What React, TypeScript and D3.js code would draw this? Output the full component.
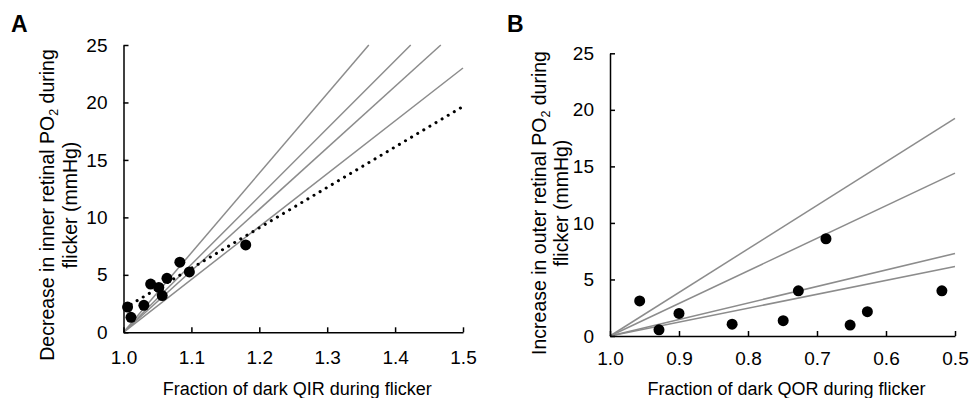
import React, { useRef, useEffect } from "react";
import * as d3 from "d3";

// Panel A: inner retina
const qirValues = [1.006, 1.011, 1.03, 1.04, 1.052, 1.057, 1.064, 1.083, 1.097, 1.18];
const innerDecrease = [2.2, 1.3, 2.35, 4.2, 3.9, 3.2, 4.7, 6.1, 5.25, 7.6];
const innerModelSlopes = [69.2, 59.1, 53.5, 46.0];
const innerFit = { slope: 35.2, intercept: 2.05, from: 1.011, to: 1.5 };
const xTicksA = [1.0, 1.1, 1.2, 1.3, 1.4, 1.5];

// Panel B: outer retina
const qorValues = [0.957, 0.929, 0.9, 0.823, 0.749, 0.727, 0.687, 0.652, 0.627, 0.519];
const outerIncrease = [3.1, 0.55, 2.0, 1.05, 1.35, 4.0, 8.6, 0.97, 2.15, 4.0];
const outerModelSlopes = [38.5, 28.8, 14.6, 12.3];
const xTicksB = [1.0, 0.9, 0.8, 0.7, 0.6, 0.5];

const yTicks = [0, 5, 10, 15, 20, 25];

const FONT = "'Liberation Sans', Arial, sans-serif";
const GRAY = "#8c8c8c";

type PanelCfg = {
  letter: string;
  letterX: number;
  x0: number;
  x1: number;
  yTop: number;
  yBottom: number;
  domain: [number, number];
  xTicks: number[];
  xs: number[];
  ys: number[];
  slopes: number[];
  yLabel1: string;
  yLabel2: string;
  labelX1: number;
  labelX2: number;
  labelCy: number;
  xTitle: string;
  titleY: number;
  xPad: number;
};

function drawPanel(svg: d3.Selection<SVGSVGElement, unknown, null, undefined>, c: PanelCfg, fit?: typeof innerFit) {
  const x = d3.scaleLinear().domain(c.domain).range([c.x0, c.x1]);
  const y = d3.scaleLinear().domain([0, 25]).range([c.yBottom, c.yTop]);
  const g = svg.append("g");

  // model lines
  const origin = c.domain[0];
  const dir = c.domain[1] > c.domain[0] ? 1 : -1;
  c.slopes.forEach((s) => {
    const span = Math.min(Math.abs(c.domain[1] - origin), 25 / s);
    const xe = origin + dir * span;
    g.append("line")
      .attr("x1", x(origin))
      .attr("y1", y(0))
      .attr("x2", x(xe))
      .attr("y2", y(s * span))
      .attr("stroke", GRAY)
      .attr("stroke-width", 1.5);
  });

  if (fit) {
    g.append("line")
      .attr("x1", x(fit.from))
      .attr("y1", y(fit.intercept + fit.slope * (fit.from - 1)))
      .attr("x2", x(fit.to))
      .attr("y2", y(fit.intercept + fit.slope * (fit.to - 1)))
      .attr("stroke", "#000")
      .attr("stroke-width", 3)
      .attr("stroke-linecap", "round")
      .attr("stroke-dasharray", "0.1 7");
  }

  // points
  g.selectAll("circle.pt")
    .data(c.xs.map((v, i) => [v, c.ys[i]]))
    .enter()
    .append("circle")
    .attr("cx", (d) => x(d[0]))
    .attr("cy", (d) => y(d[1]))
    .attr("r", 5.5)
    .attr("fill", "#000");

  // axes
  const xAxis = g
    .append("g")
    .attr("transform", `translate(0,${c.yBottom})`)
    .call(
      d3.axisBottom(x).tickValues(c.xTicks).tickSizeInner(-5).tickSizeOuter(0).tickPadding(c.xPad)
        .tickFormat((d) => d3.format(".1f")(d as number))
    );
  const yAxis = g
    .append("g")
    .attr("transform", `translate(${c.x0},0)`)
    .call(d3.axisLeft(y).tickValues(yTicks).tickSizeInner(-5).tickSizeOuter(0).tickPadding(16));
  [xAxis, yAxis].forEach((a) => {
    a.select(".domain").attr("stroke", "#000").attr("stroke-width", 1.5);
    a.selectAll(".tick line").attr("stroke", "#000").attr("stroke-width", 1.5);
    a.selectAll(".tick text").attr("font-family", FONT).attr("font-size", 19).attr("fill", "#000");
  });

  // x title
  g.append("text")
    .attr("x", (c.x0 + c.x1) / 2 + 4)
    .attr("y", c.titleY)
    .attr("text-anchor", "middle")
    .attr("font-family", FONT)
    .attr("font-size", 18)
    .text(c.xTitle);

  // y title (two lines)
  const t1 = g
    .append("text")
    .attr("transform", `translate(${c.labelX1},${c.labelCy}) rotate(-90)`)
    .attr("text-anchor", "middle")
    .attr("font-family", FONT)
    .attr("font-size", 19.5);
  const parts = c.yLabel1.split("PO2");
  t1.append("tspan").text(parts[0] + "PO");
  t1.append("tspan").attr("font-size", 12.5).attr("dy", 4).text("2");
  t1.append("tspan").attr("dy", -4).text(parts[1]);

  g.append("text")
    .attr("transform", `translate(${c.labelX2},${c.labelCy}) rotate(-90)`)
    .attr("text-anchor", "middle")
    .attr("font-family", FONT)
    .attr("font-size", 19.5)
    .text(c.yLabel2);

  // panel letter
  g.append("text")
    .attr("x", c.letterX)
    .attr("y", 32)
    .attr("font-family", FONT)
    .attr("font-size", 23)
    .attr("font-weight", "bold")
    .text(c.letter);
}

const App: React.FC = () => {
  const ref = useRef<SVGSVGElement | null>(null);

  useEffect(() => {
    const svg = d3.select(ref.current as SVGSVGElement);
    svg.selectAll("*").remove();

    drawPanel(
      svg,
      {
        letter: "A",
        letterX: 11,
        x0: 123.5,
        x1: 463,
        yTop: 45,
        yBottom: 332.3,
        domain: [1.0, 1.5],
        xTicks: xTicksA,
        xs: qirValues,
        ys: innerDecrease,
        slopes: innerModelSlopes,
        yLabel1: "Decrease in inner retinal PO2 during",
        yLabel2: "flicker (mmHg)",
        labelX1: 54,
        labelX2: 77,
        labelCy: 205,
        xTitle: "Fraction of dark QIR during  flicker",
        titleY: 395,
        xPad: 18,
      },
      innerFit
    );

    drawPanel(svg, {
      letter: "B",
      letterX: 507,
      x0: 610,
      x1: 955,
      yTop: 53.3,
      yBottom: 336,
      domain: [1.0, 0.5],
      xTicks: xTicksB,
      xs: qorValues,
      ys: outerIncrease,
      slopes: outerModelSlopes,
      yLabel1: "Increase in outer retinal PO2 during",
      yLabel2: "flicker (mmHg)",
      labelX1: 546,
      labelX2: 568,
      labelCy: 203,
      xTitle: "Fraction of dark QOR during  flicker",
      titleY: 395,
      xPad: 16,
    });
  }, []);

  return (
    <div style={{ position: "absolute", left: 0, top: 0 }}>
      <svg ref={ref} width={969} height={398} style={{ display: "block", background: "#fff" }} />
    </div>
  );
};

export default App;
